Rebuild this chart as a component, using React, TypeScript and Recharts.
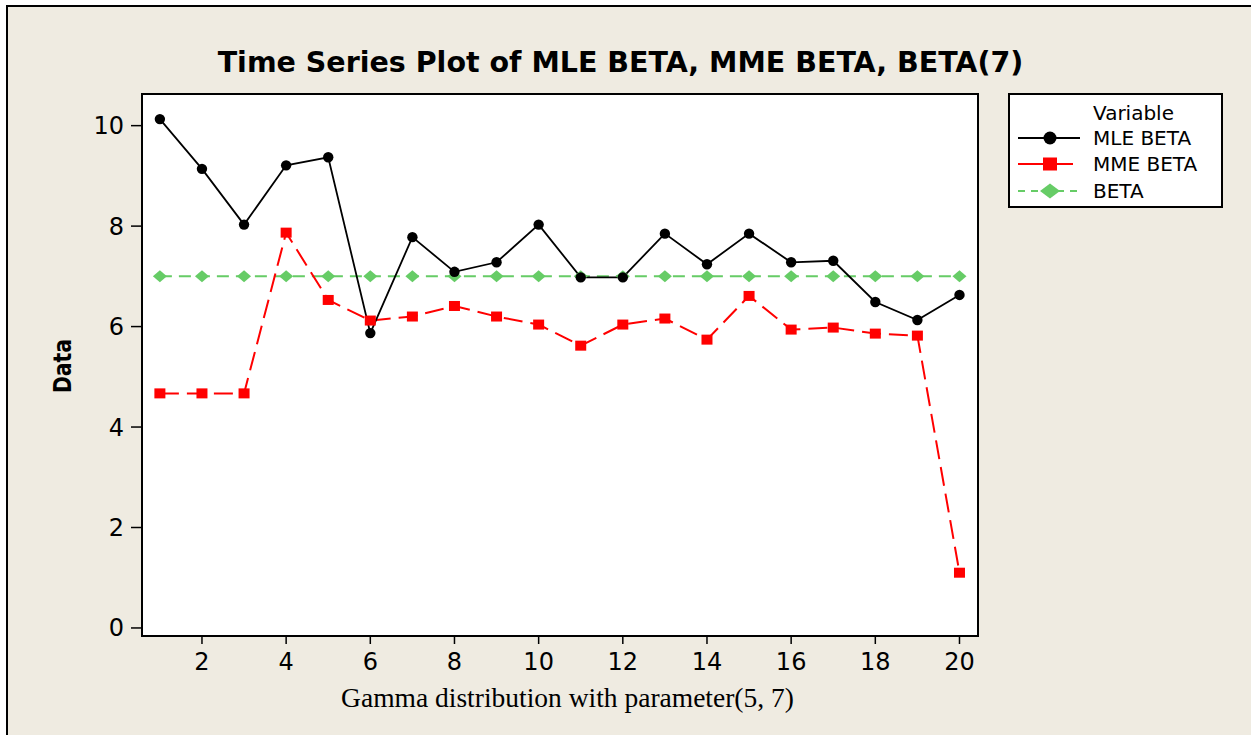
import React from "react";
import { LineChart, Line, XAxis, YAxis } from "recharts";

// observation index 1..20
const xValues = [1, 2, 3, 4, 5, 6, 7, 8, 9, 10, 11, 12, 13, 14, 15, 16, 17, 18, 19, 20];
const mleBeta = [10.13, 9.14, 8.03, 9.21, 9.37, 5.87, 7.78, 7.09, 7.28, 8.03, 6.98, 6.98, 7.85, 7.24, 7.85, 7.28, 7.31, 6.49, 6.13, 6.63];
const mmeBeta = [4.67, 4.67, 4.67, 7.87, 6.53, 6.12, 6.2, 6.41, 6.2, 6.04, 5.62, 6.04, 6.16, 5.74, 6.61, 5.94, 5.98, 5.86, 5.82, 1.1];
const betaTrue = [7, 7, 7, 7, 7, 7, 7, 7, 7, 7, 7, 7, 7, 7, 7, 7, 7, 7, 7, 7];

const xTicks = [2, 4, 6, 8, 10, 12, 14, 16, 18, 20];
const yTicks = [0, 2, 4, 6, 8, 10];
const seriesNames = ["MLE BETA", "MME BETA", "BETA"];

const data = xValues.map((x, i) => ({
  x,
  mle: mleBeta[i],
  mme: mmeBeta[i],
  beta: betaTrue[i],
}));

const X_DOMAIN: [number, number] = [0.575, 20.44];
const Y_DOMAIN: [number, number] = [-0.16, 10.63];

const BG = "#efebe1";
const GREEN = "#66cc66";
const RED = "#ff0000";
const FONT = "DejaVu Sans, Verdana, sans-serif";

const CircleDot = (props: any) => {
  const { cx, cy } = props;
  if (cx == null || cy == null) return null;
  return <circle cx={cx} cy={cy} r={5.2} fill="#000" />;
};

const SquareDot = (props: any) => {
  const { cx, cy } = props;
  if (cx == null || cy == null) return null;
  return <rect x={cx - 5.5} y={cy - 5} width={11} height={10} fill={RED} />;
};

const DiamondDot = (props: any) => {
  const { cx, cy } = props;
  if (cx == null || cy == null) return null;
  return (
    <polygon
      points={`${cx},${cy - 6} ${cx + 7},${cy} ${cx},${cy + 6} ${cx - 7},${cy}`}
      fill={GREEN}
    />
  );
};

const LegendIcon = ({ kind }: { kind: number }) => (
  <svg width={64} height={20} style={{ display: "block" }}>
    {kind === 0 && (
      <>
        <line x1={0} y1={10} x2={62} y2={10} stroke="#000" strokeWidth={1.8} />
        <circle cx={32} cy={10} r={6.5} fill="#000" />
      </>
    )}
    {kind === 1 && (
      <>
        <line x1={0} y1={10} x2={55} y2={10} stroke={RED} strokeWidth={1.8} />
        <rect x={25} y={3.5} width={14} height={13} fill={RED} />
      </>
    )}
    {kind === 2 && (
      <>
        <line x1={0} y1={10} x2={62} y2={10} stroke={GREEN} strokeWidth={1.8} strokeDasharray="7 6" />
        <polygon points="32,2.5 42,10 32,17.5 22,10" fill={GREEN} />
      </>
    )}
  </svg>
);

export default function App() {
  return (
    <div style={{ position: "absolute", left: 0, top: 0, width: 1251, height: 735, background: "#fff", overflow: "hidden" }}>
      {/* outer beige panel */}
      <div
        style={{
          position: "absolute",
          left: 6,
          top: 5,
          width: 1300,
          height: 800,
          background: BG,
          borderLeft: "2px solid #000",
          borderTop: "2px solid #000",
        }}
      />
      {/* plot frame */}
      <div
        style={{
          position: "absolute",
          left: 141,
          top: 93,
          width: 838,
          height: 544,
          boxSizing: "border-box",
          background: "#fff",
          border: "2px solid #000",
        }}
      />

      <div style={{ position: "absolute", left: 0, top: 0 }}>
        <LineChart
          width={1251}
          height={735}
          data={data}
          margin={{ top: 94, right: 273, bottom: 39, left: 42 }}
        >
          <XAxis
            dataKey="x"
            type="number"
            domain={X_DOMAIN}
            ticks={xTicks}
            allowDataOverflow
            height={60}
            axisLine={{ stroke: "#000", strokeWidth: 2 }}
            tickLine={{ stroke: "#000", strokeWidth: 1.5 }}
            tickSize={8}
            tickMargin={9}
            tick={{ fill: "#000", fontSize: 24, fontFamily: FONT }}
          />
          <YAxis
            type="number"
            domain={Y_DOMAIN}
            ticks={yTicks}
            allowDataOverflow
            width={100}
            axisLine={{ stroke: "#000", strokeWidth: 2 }}
            tickLine={{ stroke: "#000", strokeWidth: 1.5 }}
            tickSize={11}
            tickMargin={7}
            tick={{ fill: "#000", fontSize: 24, fontFamily: FONT }}
          />
          <Line
            dataKey="beta"
            name={seriesNames[2]}
            stroke={GREEN}
            strokeWidth={2}
            strokeDasharray="12 7"
            dot={<DiamondDot />}
            activeDot={false}
            isAnimationActive={false}
          />
          <Line
            dataKey="mme"
            name={seriesNames[1]}
            stroke={RED}
            strokeWidth={2}
            strokeDasharray="19 8"
            dot={<SquareDot />}
            activeDot={false}
            isAnimationActive={false}
          />
          <Line
            dataKey="mle"
            name={seriesNames[0]}
            stroke="#000"
            strokeWidth={1.8}
            dot={<CircleDot />}
            activeDot={false}
            isAnimationActive={false}
          />
        </LineChart>
      </div>

      {/* title and axis titles */}
      <svg width={1251} height={735} style={{ position: "absolute", left: 0, top: 0, pointerEvents: "none" }}>
        <text x={620.5} y={72} textAnchor="middle" fontFamily={FONT} fontWeight="bold" fontSize={28.5} fill="#000">
          Time Series Plot of MLE BETA, MME BETA, BETA(7)
        </text>
        <g transform="translate(71 366) rotate(-90) scale(0.85 1)">
          <text x={0} y={0} textAnchor="middle" fontFamily={FONT} fontWeight="bold" fontSize={24} fill="#000">
            Data
          </text>
        </g>
        <text
          x={567.5}
          y={707}
          textAnchor="middle"
          fontFamily="Liberation Serif, Times New Roman, serif"
          fontSize={27.5}
          fill="#000"
        >
          Gamma distribution with parameter(5, 7)
        </text>
      </svg>

      {/* legend */}
      <div
        style={{
          position: "absolute",
          left: 1008,
          top: 93,
          width: 215,
          height: 115,
          boxSizing: "border-box",
          background: "#fff",
          border: "2px solid #000",
          fontFamily: FONT,
          fontSize: 20,
          color: "#000",
        }}
      >
        <div style={{ position: "absolute", left: 83, top: 6, lineHeight: "24px" }}>Variable</div>
        {seriesNames.map((name, i) => (
          <div
            key={name}
            style={{ position: "absolute", left: 8, top: 31 + i * 26.3, height: 24, display: "flex", alignItems: "center" }}
          >
            <LegendIcon kind={i} />
            <span style={{ marginLeft: 11, lineHeight: "24px" }}>{name}</span>
          </div>
        ))}
      </div>
    </div>
  );
}
